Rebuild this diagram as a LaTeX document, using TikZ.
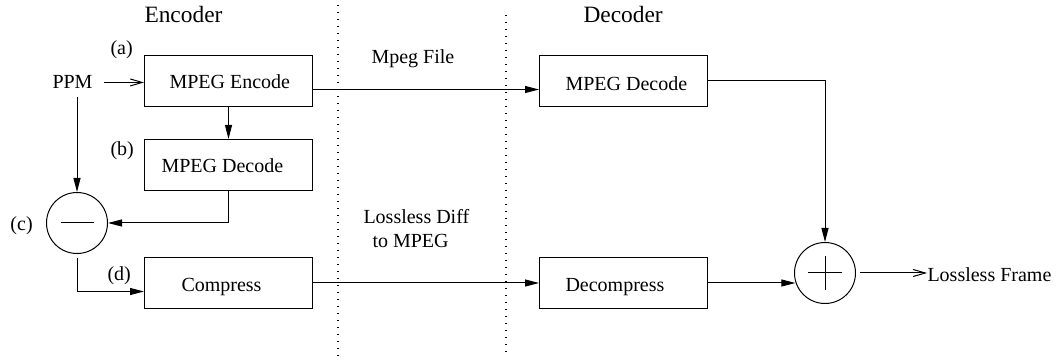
\documentclass[tikz,border=0pt]{standalone}
\usepackage{fontspec}
\setmainfont{Liberation Serif}
\usetikzlibrary{arrows.meta}
\begin{document}
\begin{tikzpicture}[x=0.5pt,y=-0.5pt, line width=0.5pt,
  font=\fontsize{10}{12}\selectfont,
  box/.style={draw, minimum width=84pt, minimum height=25.5pt, inner sep=0pt, anchor=north west},
  txt/.style={inner sep=0pt, anchor=base west},
  head/.style={txt, font=\fontsize{11.7}{14}\selectfont},
  sum/.style={draw, circle, minimum size=30.5pt, inner sep=0pt},
  fa/.style={-{Triangle[length=7pt,width=3.5pt]}},
  oa/.style={-{Straight Barb[length=6pt,width=3.5pt]}},
  sepline/.style={dash pattern=on 0.5pt off 3pt, line width=0.6pt}]
\useasboundingbox (0,0) rectangle (1060,363);
% headings and labels
\node[head] (enc) at (144,23) {Encoder};
\node[head] (dec) at (583,23) {Decoder};
\node[txt] (ppm) at (52,89) {PPM};
\node[txt] (la) at (110,54.5) {(a)};
\node[txt] (lb) at (110,156) {(b)};
\node[txt] (lc) at (10,231) {(c)};
\node[txt] (ldd) at (107,281) {(d)};
\node[txt] (mf) at (371,64) {Mpeg File};
\node[txt] (ld1) at (363,224) {Lossless Diff};
\node[txt] (ld2) at (372,248) {to MPEG};
% boxes
\node[box] (me) at (144,55) {};
\node[txt] (meT) at (169,89) {MPEG Encode};
\node[box] (md) at (144,139) {};
\node[txt] (mdT) at (161,173) {MPEG Decode};
\node[box] (cp) at (144,257) {};
\node[txt] (cpT) at (181,291.5) {Compress};
\node[box] (dd) at (539,55) {};
\node[txt] (ddT) at (565,90.5) {MPEG Decode};
\node[box] (dc) at (539,257) {};
\node[txt] (dcT) at (565,291.5) {Decompress};
% summing junctions
\node[sum] (minus) at (77,223) {};
\node[sum] (plus) at (825,273) {};
\draw (minus.center) ++(-16.5,0) -- ++(33,0);
\draw (plus.center) ++(-17,0) -- ++(34,0);
\draw (plus.center) ++(0,-17) -- ++(0,34);
\node[txt] (lf) at (927,282) {Lossless Frame};
% separators
\coordinate (s1t) at (338,5);
\coordinate (s1b) at (338,357);
\coordinate (s2t) at (506,15);
\coordinate (s2b) at (506,352);
\draw[sepline] (s1t) -- (s1b);
\draw[sepline] (s2t) -- (s2b);
% connectors
\draw[oa] ([xshift=5.5pt]ppm.east) -- (ppm.east -| me.west);
\draw[fa] ([yshift=-4pt]ppm.south -| minus.north) -- (minus.north);
\draw[fa] (me.south) -- (md.north);
\draw[fa] (md.south) |- (minus.east);
\draw[fa] ([yshift=-2pt]minus.south) |- ([yshift=-4.25pt]cp.west);
\draw[fa] ([yshift=-4.25pt]me.east) -- ([yshift=-4.25pt]dd.west);
\draw[fa] (cp.east) -- (dc.west);
\draw[fa] (dd.east) -| (plus.north);
\draw[fa] (dc.east) -- (dc.east -| plus.197);
\draw[oa] ([xshift=2pt]plus.east) -- (plus.east -| lf.west);
\end{tikzpicture}
\end{document}
